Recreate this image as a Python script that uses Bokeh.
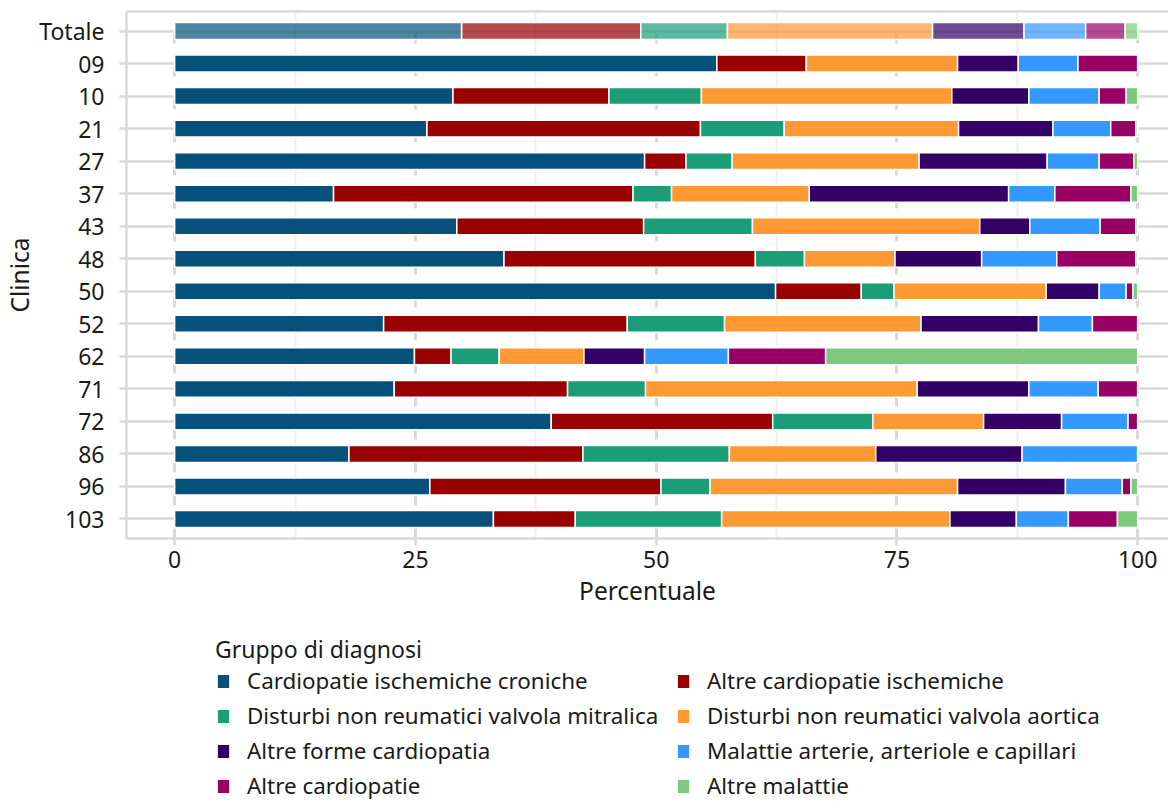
from bokeh.plotting import figure
from bokeh.layouts import column
from bokeh.models import (ColumnDataSource, FactorRange, Range1d, FixedTicker,
                          LinearAxis, Legend, LegendItem)
from bokeh.embed import file_html
from bokeh.resources import INLINE

cliniche = ["Totale", "09", "10", "21", "27", "37", "43", "48", "50", "52",
            "62", "71", "72", "86", "96", "103"]
gruppi = ["Cardiopatie ischemiche croniche", "Altre cardiopatie ischemiche",
          "Disturbi non reumatici valvola mitralica", "Disturbi non reumatici valvola aortica",
          "Altre forme cardiopatia", "Malattie arterie, arteriole e capillari",
          "Altre cardiopatie", "Altre malattie"]
colori = ["#06507c", "#990000", "#1b9e77", "#ff9933",
          "#330066", "#3399ff", "#990066", "#7fc97f"]

cardiopatie_ischemiche_croniche = [29.8, 56.3, 28.9, 26.2, 48.8, 16.5, 29.3, 34.2, 62.4, 21.7, 24.9, 22.8, 39.1, 18.1, 26.5, 33.1]
altre_cardiopatie_ischemiche = [18.6, 9.3, 16.2, 28.4, 4.3, 31.1, 19.4, 26.1, 8.9, 25.3, 3.8, 18.0, 23.0, 24.3, 24.0, 8.5]
disturbi_valvola_mitralica = [9.0, 0.0, 9.6, 8.7, 4.8, 4.0, 11.3, 5.1, 3.4, 10.1, 5.0, 8.1, 10.4, 15.2, 5.1, 15.2]
disturbi_valvola_aortica = [21.3, 15.7, 26.0, 18.1, 19.4, 14.3, 23.6, 9.4, 15.8, 20.4, 8.8, 28.2, 11.5, 15.2, 25.7, 23.7]
altre_forme_cardiopatia = [9.5, 6.3, 8.0, 9.8, 13.3, 20.7, 5.2, 9.0, 5.5, 12.2, 6.3, 11.6, 8.1, 15.2, 11.2, 6.9]
malattie_arterie = [6.4, 6.2, 7.3, 6.0, 5.4, 4.8, 7.3, 7.8, 2.8, 5.6, 8.7, 7.2, 6.9, 12.0, 5.9, 5.4]
altre_cardiopatie = [4.1, 6.2, 2.8, 2.6, 3.6, 7.9, 3.7, 8.2, 0.7, 4.7, 10.1, 4.1, 1.0, 0.0, 0.9, 5.1]
altre_malattie = [1.3, 0.0, 1.2, 0.2, 0.4, 0.7, 0.2, 0.2, 0.5, 0.0, 32.4, 0.0, 0.0, 0.0, 0.7, 2.1]

serie = [cardiopatie_ischemiche_croniche, altre_cardiopatie_ischemiche,
         disturbi_valvola_mitralica, disturbi_valvola_aortica,
         altre_forme_cardiopatia, malattie_arterie, altre_cardiopatie, altre_malattie]

x_ticks = [0, 25, 50, 75, 100]
x_minor = [12.5, 37.5, 62.5, 87.5]

FONT = "Noto Sans"
TXT = "#1a1a1a"
GRID = "#d9d9d9"

data = {"clinica": cliniche, "alpha": [0.7 if c == "Totale" else 1.0 for c in cliniche]}
for g, s in zip(gruppi, serie):
    data[g] = s
src = ColumnDataSource(data)

p = figure(width=1168, height=628,
           y_range=FactorRange(*reversed(cliniche), range_padding=0.1,
                               range_padding_units="absolute"),
           x_range=Range1d(-5, 103.2),
           output_backend="svg", toolbar_location=None,
           min_border_left=125, min_border_right=0, min_border_top=11,
           min_border_bottom=90)
p.outline_line_color = None

bar_style = dict(y="clinica", height=0.52, source=src, fill_color=colori,
                 line_color="white", line_width=1.5, fill_alpha="alpha")
rs = p.hbar_stack(gruppi, **bar_style)

# axes
p.xaxis.ticker = FixedTicker(ticks=x_ticks, minor_ticks=x_minor)
for ax in (p.xaxis[0], p.yaxis[0]):
    ax.axis_line_color = GRID
    ax.axis_line_width = 2.5
    ax.major_tick_line_color = GRID
    ax.major_tick_line_width = 2.5
    ax.major_tick_out = 7
    ax.major_tick_in = 0
    ax.minor_tick_out = 0
    ax.minor_tick_in = 0
    ax.major_label_text_font = FONT
    ax.major_label_text_font_size = "23px"
    ax.major_label_text_color = TXT
    ax.axis_label_text_font = FONT
    ax.axis_label_text_font_size = "24.5px"
    ax.axis_label_text_font_style = "normal"
    ax.axis_label_text_color = TXT
p.xaxis.axis_label = "Percentuale"
p.yaxis.axis_label = "Clinica"
p.xaxis.major_label_standoff = 5
p.xaxis.axis_label_standoff = 3
p.yaxis.major_label_standoff = 15
p.yaxis.axis_label_standoff = 0

top = LinearAxis(ticker=FixedTicker(ticks=[]), axis_line_color=GRID, axis_line_width=2.5,
                 major_tick_out=0, major_tick_in=0, minor_tick_out=0, minor_tick_in=0,
                 major_label_standoff=0, major_label_text_font_size="0px")
p.add_layout(top, "above")

# grids
p.ygrid.grid_line_color = GRID
p.ygrid.grid_line_width = 2.5
p.xgrid.grid_line_color = GRID
p.xgrid.grid_line_width = 3
p.xgrid.grid_line_dash = "10 23"
p.xgrid.minor_grid_line_color = "#eeeeee"
p.xgrid.minor_grid_line_width = 2

# legend panel: a second figure whose frame shows only the legend
q = figure(width=1168, height=173, x_range=Range1d(-1000, -999), y_range=p.y_range,
           x_axis_type=None, y_axis_type=None, output_backend="svg",
           toolbar_location=None, min_border=0, min_border_left=125)
q.outline_line_color = None
q.xgrid.visible = False
q.ygrid.visible = False
rq = q.hbar_stack(gruppi, **bar_style)

order = [0, 2, 4, 6, 1, 3, 5, 7]
items = [LegendItem(label=gruppi[i], renderers=[rq[i]], index=1) for i in order]
leg = Legend(items=items, nrows=4, ncols=2, orientation="vertical",
             title="Gruppo di diagnosi", location=(89, 0))
leg.title_text_font = FONT
leg.title_text_font_size = "23px"
leg.title_text_font_style = "normal"
leg.title_text_color = TXT
leg.label_text_font = FONT
leg.label_text_font_size = "22.4px"
leg.label_text_color = TXT
leg.glyph_width = 16
leg.glyph_height = 18
leg.label_standoff = 16
leg.label_height = 24
leg.label_width = 424
leg.spacing = 4
leg.padding = 0
leg.margin = 0
leg.title_standoff = 0
leg.border_line_color = None
leg.background_fill_alpha = 0
q.add_layout(leg, "center")

layout = column(p, q, spacing=0)
open("out.html", "w").write(file_html(layout, INLINE))
